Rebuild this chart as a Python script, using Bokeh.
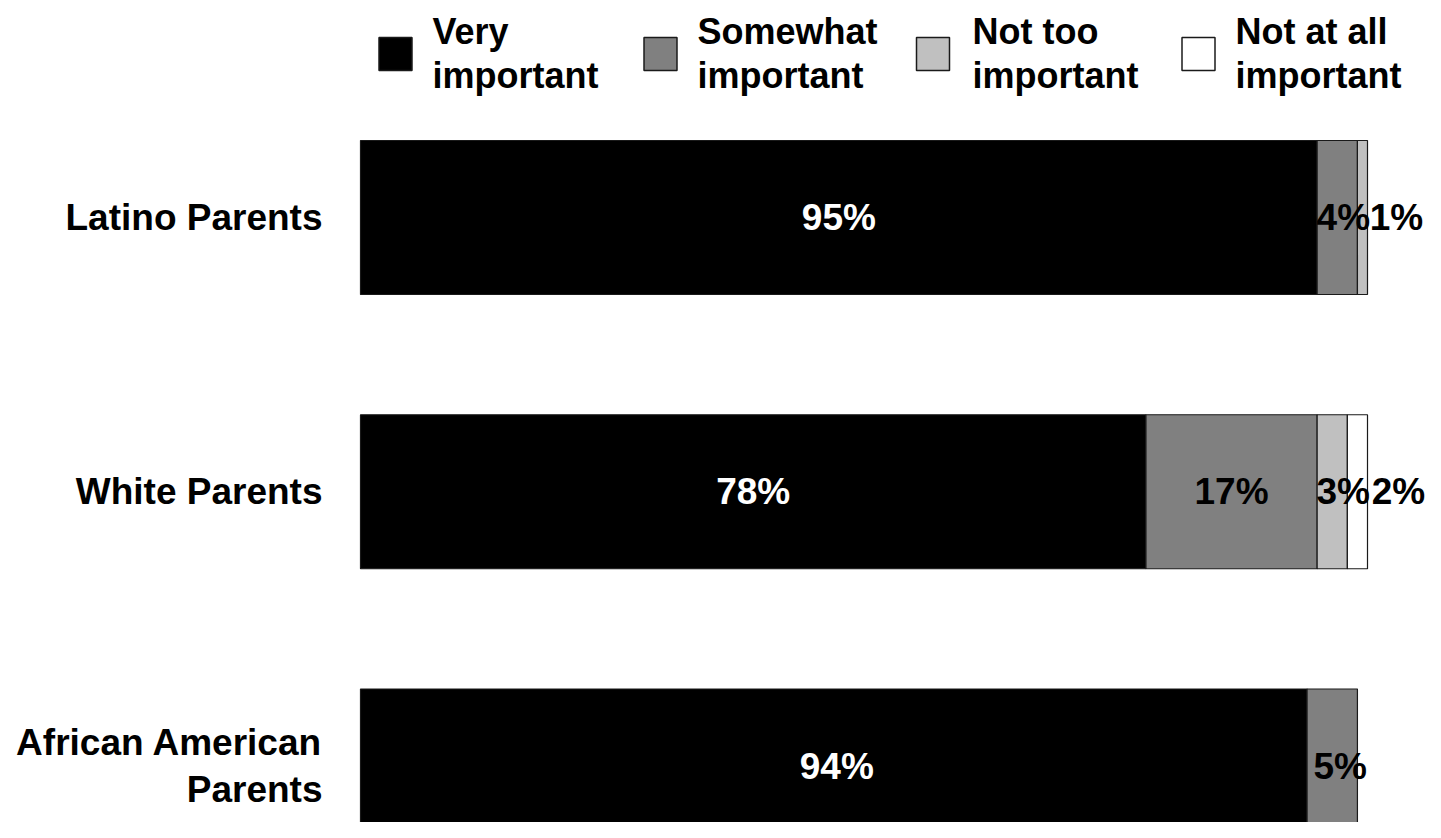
from bokeh.plotting import figure
from bokeh.models import Range1d, ColumnDataSource
from bokeh.core.properties import value
from bokeh.embed import file_html
from bokeh.resources import INLINE

# ---- data ----
categories = ["Latino Parents", "White Parents", "African American\nParents"]
very_important = [95, 78, 94]
somewhat_important = [4, 17, 5]
not_too_important = [1, 3, 0]
not_at_all_important = [0, 2, 0]
series_names = ["Very\nimportant", "Somewhat\nimportant", "Not too\nimportant", "Not at all\nimportant"]

# ---- styles / layout ----
series_values = [very_important, somewhat_important, not_too_important, not_at_all_important]
fills = ["#000000", "#808080", "#C0C0C0", "#FFFFFF"]
label_colors = ["white", "black", "black", "black"]
# extra label nudges in screen pixels (per series, per category)
label_nudge = [[0, 0, 3], [6, 0, 8], [34, 11, 0], [0, 41, 0]]

FONT = "Liberation Sans"
W, H = 1425, 822
SX = 10.07          # px per percent
X0 = 360            # px of 0 %
SY = 274.25         # px per category step
Y0 = 217            # px of first category centre

xs = -X0 / SX
ys = -Y0 / SY

def fx(px):  # canvas px -> data x
    return xs + px / SX

def fy(py):  # canvas py -> data y
    return ys + py / SY

p = figure(width=W, height=H, output_backend="svg", toolbar_location=None,
           x_range=Range1d(xs, xs + W / SX), y_range=Range1d(ys + H / SY, ys),
           min_border=0, min_border_left=0, min_border_right=0,
           min_border_top=0, min_border_bottom=0)
p.axis.visible = False
p.grid.visible = False
p.outline_line_color = None
p.background_fill_color = "white"
p.border_fill_color = "white"

idx = list(range(len(categories)))
cum = [0.0] * len(categories)
sources = []
for s, vals in enumerate(series_values):
    ys_, lefts, rights, tx, tt, offs = [], [], [], [], [], []
    for i, v in enumerate(vals):
        if v > 0:
            ys_.append(idx[i])
            lefts.append(cum[i])
            rights.append(cum[i] + v)
            tx.append(cum[i] + v / 2)
            tt.append(f"{v}%")
            offs.append(label_nudge[s][i])
        cum[i] += v
    src = ColumnDataSource(dict(y=ys_, left=lefts, right=rights, tx=tx, tt=tt, off=offs))
    sources.append(src)
    p.hbar(y="y", left="left", right="right", height=154 / SY, source=src,
           fill_color=fills[s], line_color="#1a1a1a", line_width=1.2)

for s, src in enumerate(sources):
    p.text(x="tx", y="y", text="tt", source=src, x_offset="off",
           text_align="center", text_baseline="middle",
           text_font=value(FONT), text_font_style="bold", text_font_size="37px",
           text_color=label_colors[s])

# category labels
p.text(x=[fx(322)] * len(categories), y=idx, text=categories,
       text_align="right", text_baseline="middle", text_font=value(FONT),
       text_font_style="bold", text_font_size="37px", text_color="black",
       text_line_height=1.13)

# legend (manual)
sq_cx = [395, 660, 932.5, 1198]
tx_left = [432, 697, 972, 1235]
p.rect(x=[fx(c) for c in sq_cx], y=[fy(53.5)] * 4, width=33 / SX, height=33 / SY,
       fill_color=fills, line_color="#1a1a1a", line_width=1.5)
p.text(x=[fx(t) for t in tx_left], y=[fy(53)] * 4, text=series_names,
       text_align="left", text_baseline="middle", text_font=value(FONT),
       text_font_style="bold", text_font_size="36px", text_color="black",
       text_line_height=1.07)

open("out.html", "w").write(file_html(p, INLINE))
